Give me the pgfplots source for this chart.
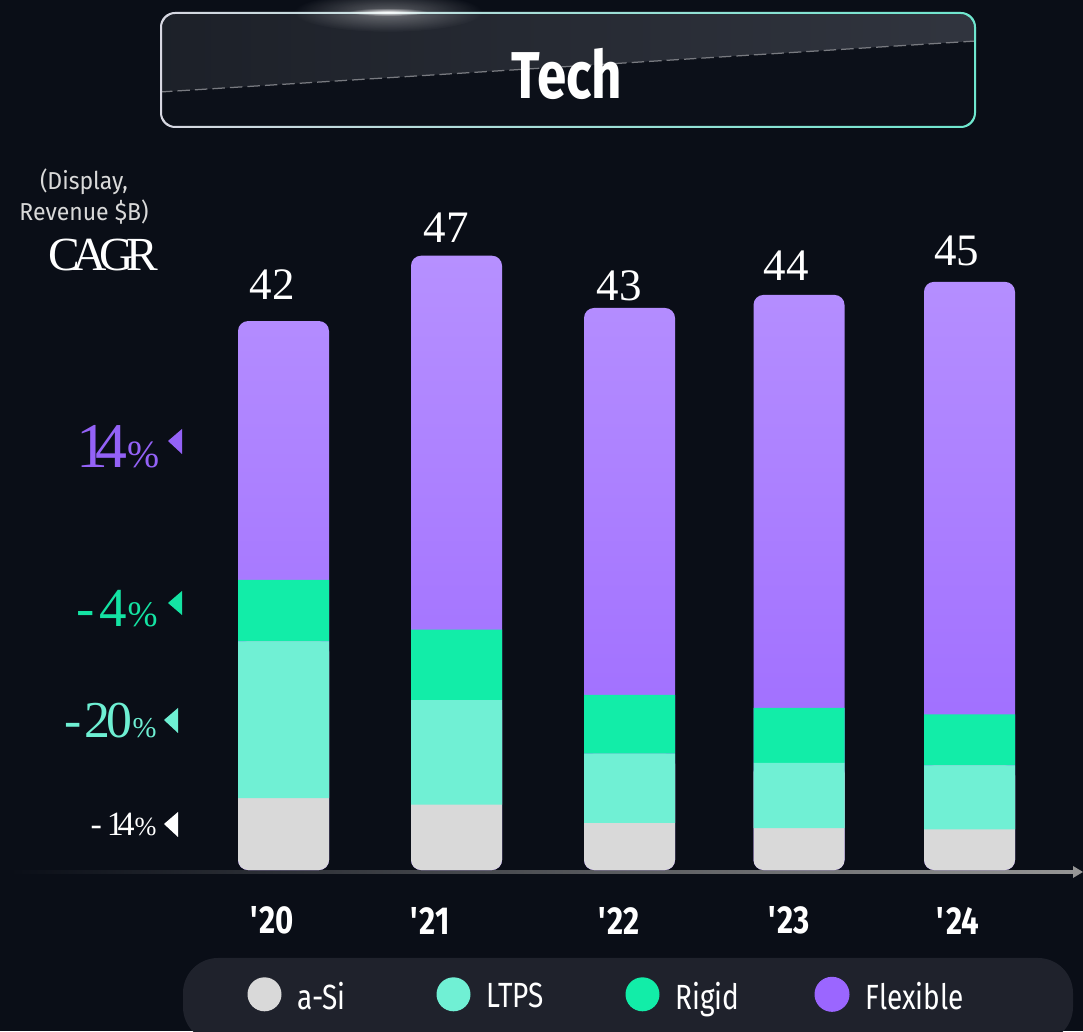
\documentclass[border=0pt]{standalone}
\usepackage{fontspec}
\setmainfont{Liberation Serif}
\newfontfamily\din[FakeStretch=0.8]{Fira Sans}
\newfontfamily\dinw[FakeStretch=0.94]{Fira Sans}
\usepackage{pgfplots}
\usepackage{pgfplotstable}
\pgfplotsset{compat=1.18}
\usetikzlibrary{fadings}

\definecolor{bg}{HTML}{0A0E17}
\definecolor{boxlow}{HTML}{0C1019}
\definecolor{pill}{HTML}{1F222C}
\definecolor{asi}{HTML}{D9D9D9}
\definecolor{ltps}{HTML}{70F0D4}
\definecolor{rigid}{HTML}{12EDA8}
\definecolor{flextop}{HTML}{B690FF}
\definecolor{flexbot}{HTML}{9B66FF}
\definecolor{cpurple}{HTML}{9462F7}
\definecolor{cgreen}{HTML}{14E3A3}
\definecolor{cteal}{HTML}{6EEFD3}
\definecolor{axgray}{HTML}{969696}
\definecolor{glossl}{HTML}{1C2028}
\definecolor{glossr}{HTML}{31353F}
\definecolor{rimw}{HTML}{D7D7E1}
\definecolor{rimp}{HTML}{A882F0}
\definecolor{rimt}{HTML}{6EE6CE}

\tikzfading[name=glow, inner color=transparent!0, outer color=transparent!100]

% revenue $B per display type, x = bar centre in px
% lower = a-Si + LTPS (top of the LTPS segment)
\pgfplotstableread{
x      asi  ltps  rigid  flex  total  lower
283.5  5.5  12.0  4.7    19.8  42     17.5
456.5  5.0  8.0   5.4    28.6  47     13.0
629.5  3.6  5.3   4.5    29.6  43     8.9
799    3.2  5.0   4.2    31.6  44     8.2
969.5  3.1  4.9   3.9    33.1  45     8.0
}\datatable

\pgfplotsset{
  base/.style={
    scale only axis, width=433.2pt, height=412.4pt,
    at={(0,0)}, anchor=south west,
    xmin=0, xmax=1083, ymin=-12.318, ymax=66.565,
    axis line style={draw=none}, major tick length=0pt,
    ytick=\empty, clip=false, bar width=91,
  },
  dot/.style={legend image code/.code={\fill[#1] (0pt,1.2pt) circle (6.8pt);}},
}

\begin{document}
\begin{tikzpicture}
\useasboundingbox (0,0) rectangle (433.2pt,412.4pt);

\begin{scope}[x=0.4pt, y=-0.4pt, yshift=412.4pt]
  \fill[bg] (0,0) rectangle (1083,1031);

  % title box
  \begin{scope}
    \clip[rounded corners=6pt] (160,12) rectangle (976,128);
    \fill[boxlow] (160,12) rectangle (976,128);
    \shade[left color=glossl, right color=glossr]
      (150,0) -- (990,0) -- (990,40) -- (160,92) -- cycle;
    \draw[white!45!bg, line width=0.5pt, dash pattern=on 5pt off 2pt] (160,92) -- (976,41);
  \end{scope}
  \shade[left color=rimw, middle color=rimp, right color=rimt,
         even odd rule, rounded corners=6pt]
    (160,12) rectangle (976,128) [rounded corners=5.3pt] (162,14) rectangle (974,126);
  \fill[white, path fading=glow, opacity=0.35] (388,12) ellipse [x radius=95, y radius=20];
  \fill[white, path fading=glow, opacity=0.9] (388,12) ellipse [x radius=40, y radius=4];
  \node[anchor=base, inner sep=0, text=white, font=\din\bfseries\fontsize{26.5}{26.5}\selectfont]
    at (567,99) {Tech};

  % unit and CAGR heading
  \node[align=center, inner sep=0, text=asi, font=\dinw\fontsize{9.8}{12.4}\selectfont]
    at (84,197) {(Display,\\Revenue \$B)};
  \node[anchor=base, inner sep=0, text=white, font=\fontsize{19}{19}\selectfont]
    at (103,271) {C\kern-2.8pt A\kern-3pt G\kern-3.2pt R};

  % CAGR values
  \node[anchor=base east, inner sep=0, text=cpurple, font=\fontsize{25.5}{25.5}\selectfont]
    at (160,468) {1\kern-5.2pt 4{\fontsize{15.4}{15.4}\selectfont\%}};
  \fill[cpurple] (168,441) -- (182,429) -- (182,454) -- cycle;
  \node[anchor=base east, inner sep=0, text=cgreen, font=\fontsize{22}{22}\selectfont]
    at (158,627) {-\kern2pt 4{\fontsize{14.4}{14.4}\selectfont\%}};
  \fill[cgreen] (168,603) -- (182,591) -- (182,615) -- cycle;
  \node[anchor=base east, inner sep=0, text=cteal, font=\fontsize{20.7}{20.7}\selectfont]
    at (157,738) {-\kern1.2pt 2\kern-1.5pt 0{\fontsize{11.5}{11.5}\selectfont\%}};
  \fill[cteal] (164,720) -- (178,708) -- (178,733) -- cycle;
  \node[anchor=base east, inner sep=0, text=white, font=\fontsize{13.6}{13.6}\selectfont]
    at (157,836) {-\kern2pt 1\kern-2.5pt 4{\fontsize{10.5}{10.5}\selectfont\%}};
  \fill[white] (164,824) -- (178,812) -- (178,837) -- cycle;

  % baseline arrow
  \shade[left color=bg, right color=axgray] (10,870.5) rectangle (1076,873.5);
  \fill[axgray] (1073,866) -- (1083,872) -- (1073,878) -- cycle;

  % legend pill
  \fill[pill, rounded corners=14pt] (183,958) rectangle (1073,1042);
\end{scope}

% rounded ends: Flexible top and a-Si bottom
\begin{axis}[base, ybar, bar shift=0pt,
  xtick={272,430,619,789,958},
  xticklabels={\textquotesingle20,\textquotesingle21,\textquotesingle22,\textquotesingle23,\textquotesingle24},
  xticklabel style={anchor=center, yshift=44.2pt, text=white,
    font=\din\bfseries\fontsize{15.6}{15.6}\selectfont},
]
\addplot[draw=none, top color=flextop, bottom color=flexbot, rounded corners=4pt]
  table[x=x, y=total] {\datatable};
\addplot[draw=none, fill=asi, rounded corners=4pt] table[x=x, y=lower] {\datatable};
\end{axis}

% middle segments with square corners, and legend
\begin{axis}[base, ybar stacked, xtick=\empty,
  legend columns=4, legend cell align=left,
  legend style={at={(axis cs:247,-9.55)}, anchor=west, draw=none, fill=none,
    inner sep=0pt, text=white, font=\din\fontsize{14}{14}\selectfont,
    nodes={inner sep=0pt, text width=44pt},
    /tikz/every odd column/.append style={column sep=6.4pt},
    /tikz/every even column/.append style={column sep=11.6pt}},
]
\addplot[draw=none, fill=none, dot=asi] table[x=x, y=asi] {\datatable};
\addlegendentry{a-Si}
\addplot[draw=none, fill=ltps, dot=ltps] table[x=x, y=ltps] {\datatable};
\addlegendentry{LTPS}
\addplot[draw=none, fill=rigid, dot=rigid] table[x=x, y=rigid] {\datatable};
\addlegendentry{Rigid}
\addlegendimage{dot=flexbot}
\addlegendentry{Flexible}
\end{axis}

% totals
\begin{scope}[x=0.4pt, y=-0.4pt, yshift=412.4pt]
  \foreach \px/\py/\t in {272/285/42, 446/228/47, 619/285.5/43, 786/266/44, 957/250.5/45}
    \node[text=white, inner sep=0, font=\fontsize{18}{18}\selectfont] at (\px,\py) {\t};
\end{scope}
\end{tikzpicture}
\end{document}
